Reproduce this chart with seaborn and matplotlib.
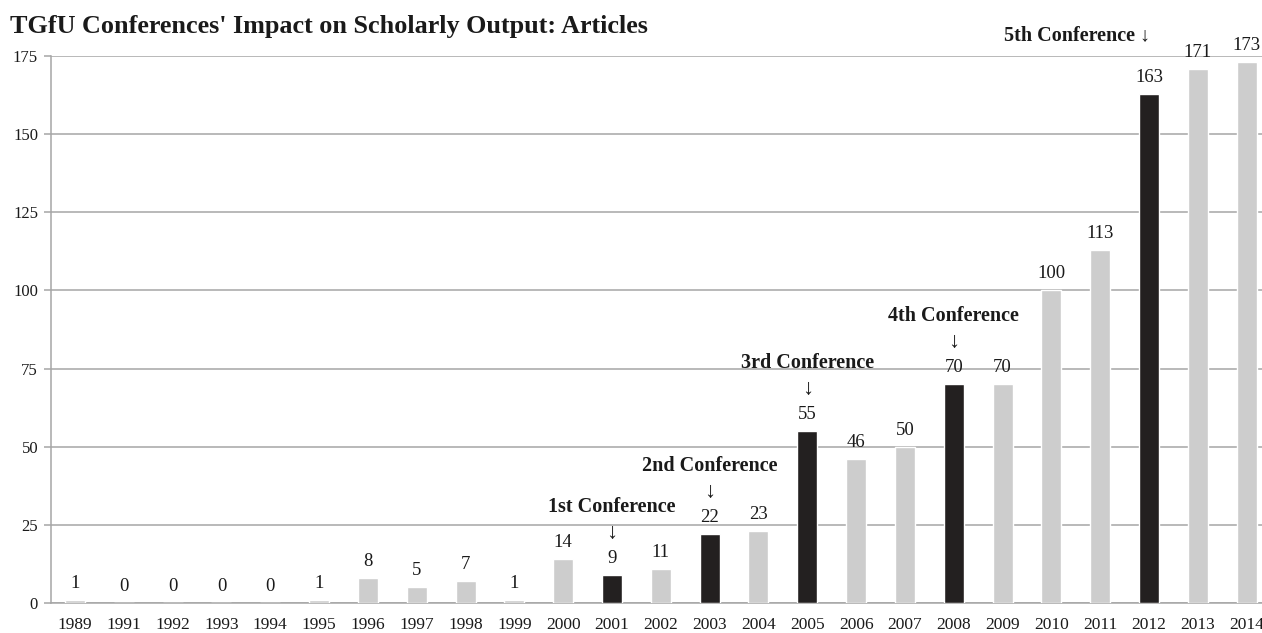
import matplotlib
matplotlib.use("Agg")
import matplotlib.pyplot as plt
import seaborn as sns
import pandas as pd

years = ["1989", "1991", "1992", "1993", "1994", "1995", "1996", "1997", "1998", "1999",
         "2000", "2001", "2002", "2003", "2004", "2005", "2006", "2007", "2008", "2009",
         "2010", "2011", "2012", "2013", "2014"]
articles = [1, 0, 0, 0, 0, 1, 8, 5, 7, 1, 14, 9, 11, 22, 23, 55, 46, 50, 70, 70,
            100, 113, 163, 171, 173]
conference_years = ["2001", "2003", "2005", "2008", "2012"]
conference_labels = ["1st Conference", "2nd Conference", "3rd Conference", "4th Conference", "5th Conference"]
y_ticks = [0, 25, 50, 75, 100, 125, 150, 175]
title = "TGfU Conferences' Impact on Scholarly Output: Articles"

sns.set_theme(style="white")
plt.rcParams['font.family'] = ['Liberation Serif', 'DejaVu Serif']

df = pd.DataFrame({"year": years, "articles": articles})
df["conf"] = df["year"].isin(conference_years).map({True: "conf", False: "other"})

fig = plt.figure(figsize=(12.62, 6.33), dpi=100)
W, H = 1262, 633
ax = fig.add_axes([50.6 / W, 30 / H, (1271 - 50.6) / W, (603 - 56) / H])

sns.barplot(data=df, x="year", y="articles", hue="conf",
            palette={"conf": "#231f20", "other": "#cdcdcd"},
            dodge=False, legend=False, width=0.41, ax=ax, zorder=3)

ax.set_xlim(-0.5, len(years) - 0.5)
ax.set_ylim(0, 175)
ax.set_yticks(y_ticks)
ax.yaxis.grid(True, color="#a6a6a6", linewidth=1.1, zorder=0)
ax.set_axisbelow(True)
ax.set_xlabel("")
ax.set_ylabel("")
for s in ["top", "right"]:
    ax.spines[s].set_visible(False)
for s in ["left", "bottom"]:
    ax.spines[s].set_color("#a6a6a6")
    ax.spines[s].set_linewidth(1.1)
ax.tick_params(axis="y", left=True, length=5, width=1.1, color="#a6a6a6",
               labelsize=12, labelcolor="#1a1a1a", pad=4)
ax.tick_params(axis="x", bottom=False, labelsize=12.5, labelcolor="#1a1a1a", pad=4)

px = 0.72  # points per pixel at dpi 100
for i, v in enumerate(articles):
    ax.annotate(str(v), xy=(i, v), xytext=(0, 12 * px), textcoords="offset points",
                ha="center", va="baseline", fontsize=13.5, color="#1a1a1a")

for yr, lab in zip(conference_years, conference_labels):
    i = years.index(yr)
    v = articles[i]
    if lab.startswith("5th"):
        ax.annotate(lab + " \u2193", xy=(i, 175), xytext=(1, 16 * px), textcoords="offset points",
                    ha="right", va="baseline", fontsize=14.5, fontweight="bold",
                    color="#1a1a1a", annotation_clip=False)
    else:
        ax.annotate("\u2193", xy=(i, v), xytext=(0, 37 * px), textcoords="offset points",
                    ha="center", va="baseline", fontsize=16, color="#1a1a1a")
        ax.annotate(lab, xy=(i, v), xytext=(0, 63 * px), textcoords="offset points",
                    ha="center", va="baseline", fontsize=14.5, fontweight="bold",
                    color="#1a1a1a")

fig.text(10 / W, 1 - 33 / H, title, ha="left", va="baseline",
         fontsize=18.8, fontweight="bold", color="#1a1a1a")

fig.savefig("out.png", dpi=100)
